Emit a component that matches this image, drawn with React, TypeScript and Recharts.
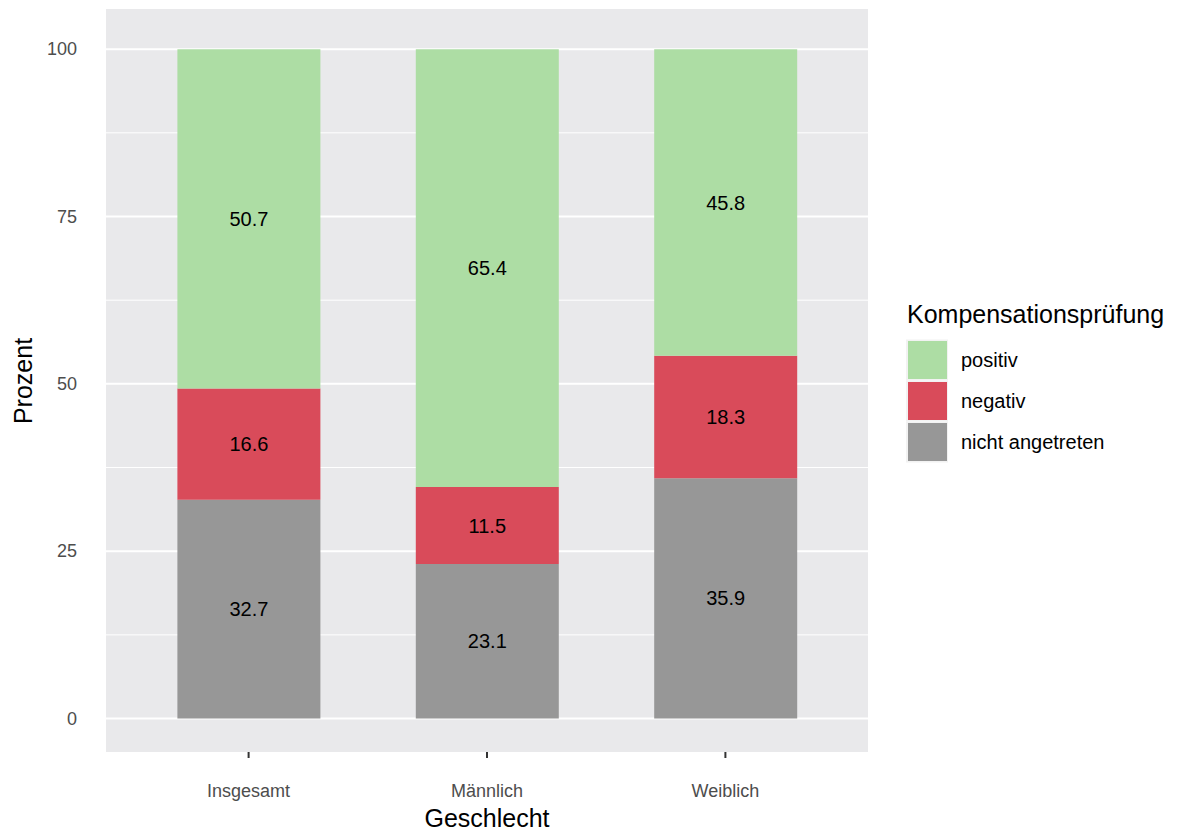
import { Bar, BarChart, CartesianGrid, LabelList, XAxis, YAxis } from "recharts"

const categories = ["Insgesamt", "Männlich", "Weiblich"]
const nichtAngetreten = [32.7, 23.1, 35.9]
const negativ = [16.6, 11.5, 18.3]
const positiv = [50.7, 65.4, 45.8]

const yTicks = [0, 25, 50, 75, 100]
const yMinor = [12.5, 37.5, 62.5, 87.5]

// stack order bottom -> top
const series = [
    { key: "nicht", name: "nicht angetreten", color: "#979797" },
    { key: "negativ", name: "negativ", color: "#d94b5a" },
    { key: "positiv", name: "positiv", color: "#addda4" },
]

const data = categories.map((c, i) => ({
    name: c,
    nicht: nichtAngetreten[i],
    negativ: negativ[i],
    positiv: positiv[i],
}))

const FONT = "'Liberation Sans', Arial, Helvetica, sans-serif"

const XTick = ({ x, payload }: any) => (
    <text x={x} y={797} textAnchor="middle" fill="#4d4d4d" fontSize={18} fontFamily={FONT}>
        {payload.value}
    </text>
)

const YTick = ({ y, payload }: any) => (
    <text x={77} y={y + 6} textAnchor="end" fill="#4d4d4d" fontSize={18} fontFamily={FONT}>
        {payload.value}
    </text>
)

export default function App() {
    const legendItems = [...series].reverse()
    return (
        <div style={{ position: "absolute", left: 0, top: 0, width: 1180, height: 833, background: "#fff", fontFamily: FONT }}>
            <BarChart
                width={1180}
                height={833}
                data={data}
                margin={{ top: 9, right: 312, bottom: 0, left: 0 }}
                barSize={143}
            >
                <CartesianGrid
                    fill="#e9e9eb"
                    stroke="#ffffff"
                    strokeWidth={1}
                    vertical={false}
                    horizontalValues={yMinor}
                />
                <CartesianGrid
                    stroke="#ffffff"
                    strokeWidth={2}
                    vertical={false}
                    horizontalValues={yTicks}
                />
                <XAxis
                    dataKey="name"
                    height={81}
                    axisLine={false}
                    tickLine={{ stroke: "#333333", strokeWidth: 2 }}
                    tickSize={6}
                    padding={{ left: 23.4, right: 23.4 }}
                    tick={<XTick />}
                    interval={0}
                />
                <YAxis
                    width={106}
                    domain={[-5, 106]}
                    ticks={yTicks}
                    allowDataOverflow
                    axisLine={false}
                    tickLine={false}
                    tick={<YTick />}
                />
                {series.map((s) => (
                    <Bar key={s.key} dataKey={s.key} name={s.name} stackId="a" fill={s.color} isAnimationActive={false}>
                        <LabelList
                            dataKey={s.key}
                            position="center"
                            fill="#000000"
                            fontSize={20}
                            fontFamily={FONT}
                            formatter={(v: any) => Number(v).toFixed(1)}
                        />
                    </Bar>
                ))}
            </BarChart>
            <svg
                width={1180}
                height={833}
                style={{ position: "absolute", left: 0, top: 0, pointerEvents: "none" }}
                fontFamily={FONT}
            >
                <text x={487} y={827} textAnchor="middle" fontSize={25} fill="#000">
                    Geschlecht
                </text>
                <text x={32} y={381} textAnchor="middle" fontSize={25} fill="#000" transform="rotate(-90, 32, 381)">
                    Prozent
                </text>
                <text x={907} y={323} fontSize={25} fill="#000">
                    Kompensationsprüfung
                </text>
                {legendItems.map((s, i) => (
                    <g key={s.key}>
                        <rect x={906} y={339.5 + i * 41} width={42} height={41} fill="#f2f2f2" />
                        <rect x={908} y={341 + i * 41} width={39} height={38} fill={s.color} />
                        <text x={961} y={367 + i * 41} fontSize={20} fill="#000">
                            {s.name}
                        </text>
                    </g>
                ))}
            </svg>
        </div>
    )
}
